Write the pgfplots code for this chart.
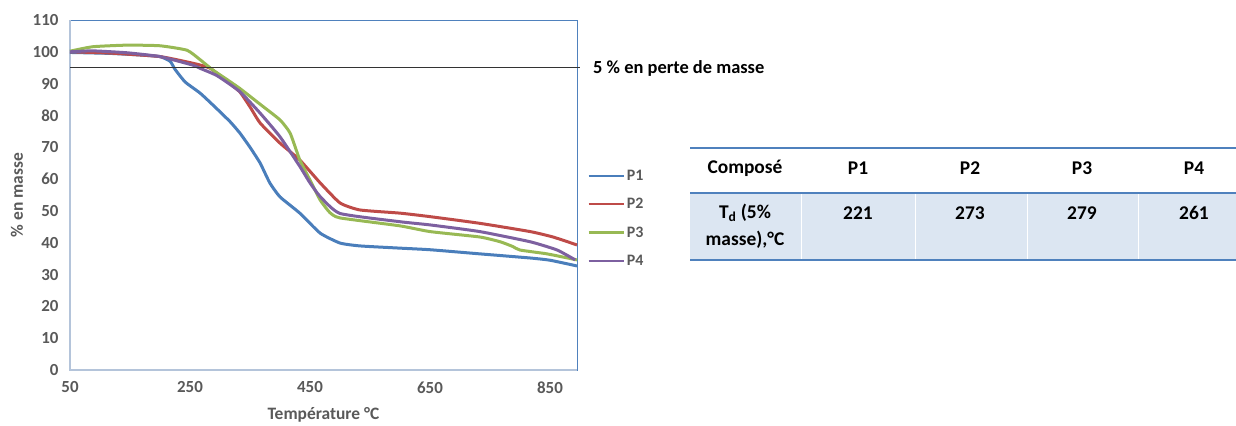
\documentclass[border=0pt]{standalone}
\usepackage{fontspec}
\setmainfont{Carlito}
\usepackage{pgfplots}
\pgfplotsset{compat=1.18}
\usepackage{pgfplotstable}

\definecolor{cP1}{RGB}{74,126,187}
\definecolor{cP2}{RGB}{190,75,72}
\definecolor{cP3}{RGB}{152,185,84}
\definecolor{cP4}{RGB}{125,96,160}
\definecolor{lblgray}{RGB}{89,89,89}
\definecolor{boxblue}{RGB}{79,129,189}
\definecolor{axgray}{RGB}{180,196,218}
\definecolor{rowblue}{RGB}{220,230,242}

\newcommand{\tickfont}{\fontsize{17}{20}\selectfont\bfseries}
\newcommand{\legfont}{\fontsize{16}{19}\selectfont\bfseries}
\newcommand{\labfont}{\fontsize{17.5}{20}\selectfont\bfseries}
\newcommand{\tabfont}{\fontsize{19.5}{22}\selectfont\bfseries}

% courbes ATG (T en degC, masse en %)
\pgfplotstableread{
T m
50 99.8
117 99.5
167 99.0
200 98.5
217 97.0
225 94.5
242 90.5
267 87.0
292 82.6
317 78.0
333 74.5
350 70.0
367 65.0
383 58.8
400 54.4
433 49.3
467 43.0
500 39.9
533 39.0
600 38.3
650 37.8
733 36.5
817 35.2
850 34.5
895 32.7
}\dataPone
\pgfplotstableread{
T m
50 100.0
117 99.6
200 98.5
255 96.4
283 94.9
310 91.0
333 87.4
350 82.7
367 77.6
400 71.3
433 66.0
467 58.8
500 52.5
533 50.3
600 49.3
650 48.2
733 46.1
817 43.5
855 41.8
895 39.3
}\dataPtwo
\pgfplotstableread{
T m
50 100.2
88 101.6
145 102.1
200 101.9
245 100.5
267 97.5
288 94.3
310 91.5
333 88.5
367 83.5
400 78.6
417 74.4
433 66.0
450 59.7
467 53.4
483 49.5
500 47.8
600 45.3
650 43.5
733 41.8
767 40.3
788 38.8
800 37.7
845 36.5
895 34.6
}\dataPthree
\pgfplotstableread{
T m
50 100.0
88 100.3
145 99.7
200 98.5
255 95.8
267 94.8
295 92.5
333 87.5
367 80.7
400 73.3
433 64.0
450 58.8
467 54.5
500 49.2
600 46.6
650 45.6
733 43.5
817 40.3
862 37.7
892 34.6
}\dataPfour

\begin{document}
\begin{tikzpicture}[x=1bp,y=1bp]
\path[use as bounding box] (0,0) rectangle (1236,425);
\begin{axis}[
    at={(70bp,55bp)}, anchor=south west,
    scale only axis, width=507bp, height=350bp,
    xmin=50, xmax=895, ymin=0, ymax=110,
    xtick={50,250,...,850}, ytick={0,10,...,110},
    major tick length=0pt,
    axis line style={draw=boxblue, line width=0.8bp},
    /pgf/number format/assume math mode=true,
    tick label style={font=\tickfont, color=lblgray},
    yticklabel style={xshift=-8bp},
    xticklabel style={yshift=-8bp},
    xlabel={Température °C},
    ylabel={\% en masse},
    xlabel style={font=\labfont, color=lblgray, at={(axis description cs:0.5,0)}, anchor=center, yshift=-45bp},
    ylabel style={font=\labfont, color=lblgray, at={(axis description cs:0,0.5)}, anchor=center, yshift=53bp},
    clip=false,
    legend style={draw=none, fill=none, at={(1.02,0.578)}, anchor=north west,
        font=\legfont, text=lblgray, row sep=12.5bp, inner sep=0pt},
    legend cell align=left,
    legend image code/.code={\draw[#1, line width=2.5bp] (0bp,0bp) -- (35bp,0bp);},
    every axis plot/.append style={line width=3bp, line join=round},
]
\draw[axgray, line width=1.5bp] (rel axis cs:0,1) -- (rel axis cs:0,0) -- (rel axis cs:1,0);
\addplot[cP1, smooth, tension=0.3] table[x=T, y=m] {\dataPone};
\addlegendentry{P1}
\addplot[cP2, smooth, tension=0.3] table[x=T, y=m] {\dataPtwo};
\addlegendentry{P2}
\addplot[cP3, smooth, tension=0.3] table[x=T, y=m] {\dataPthree};
\addlegendentry{P3}
\addplot[cP4, smooth, tension=0.3] table[x=T, y=m] {\dataPfour};
\addlegendentry{P4}
\addplot[black!80, line width=1bp, forget plot] coordinates {(50,95) (900,95)};
\end{axis}

\node[anchor=west, font=\fontsize{18.5}{21}\selectfont\bfseries, inner sep=0] at (593,357) {5 \% en perte de masse};

% tableau
\fill[rowblue] (690,232) rectangle (1236,165);
\foreach \xx in {801,915,1027,1138} \draw[white, line width=1bp] (\xx,232) -- (\xx,165);
\draw[boxblue, line width=1.5bp] (690,277) -- (1236,277);
\draw[boxblue, line width=1.5bp] (690,232) -- (1236,232);
\draw[boxblue, line width=1.5bp] (690,165) -- (1236,165);
\begin{scope}[every node/.style={font=\tabfont, inner sep=0, anchor=center}]
\node at (745,257) {Composé};
\node at (858,257) {P1};
\node at (970,257) {P2};
\node at (1082,257) {P3};
\node at (1194,257) {P4};
\node at (745,212) {T\textsubscript{d} (5\%};
\node at (745,185) {masse),°C};
\node at (858,212) {221};
\node at (970,212) {273};
\node at (1082,212) {279};
\node at (1194,212) {261};
\end{scope}
\end{tikzpicture}
\end{document}
